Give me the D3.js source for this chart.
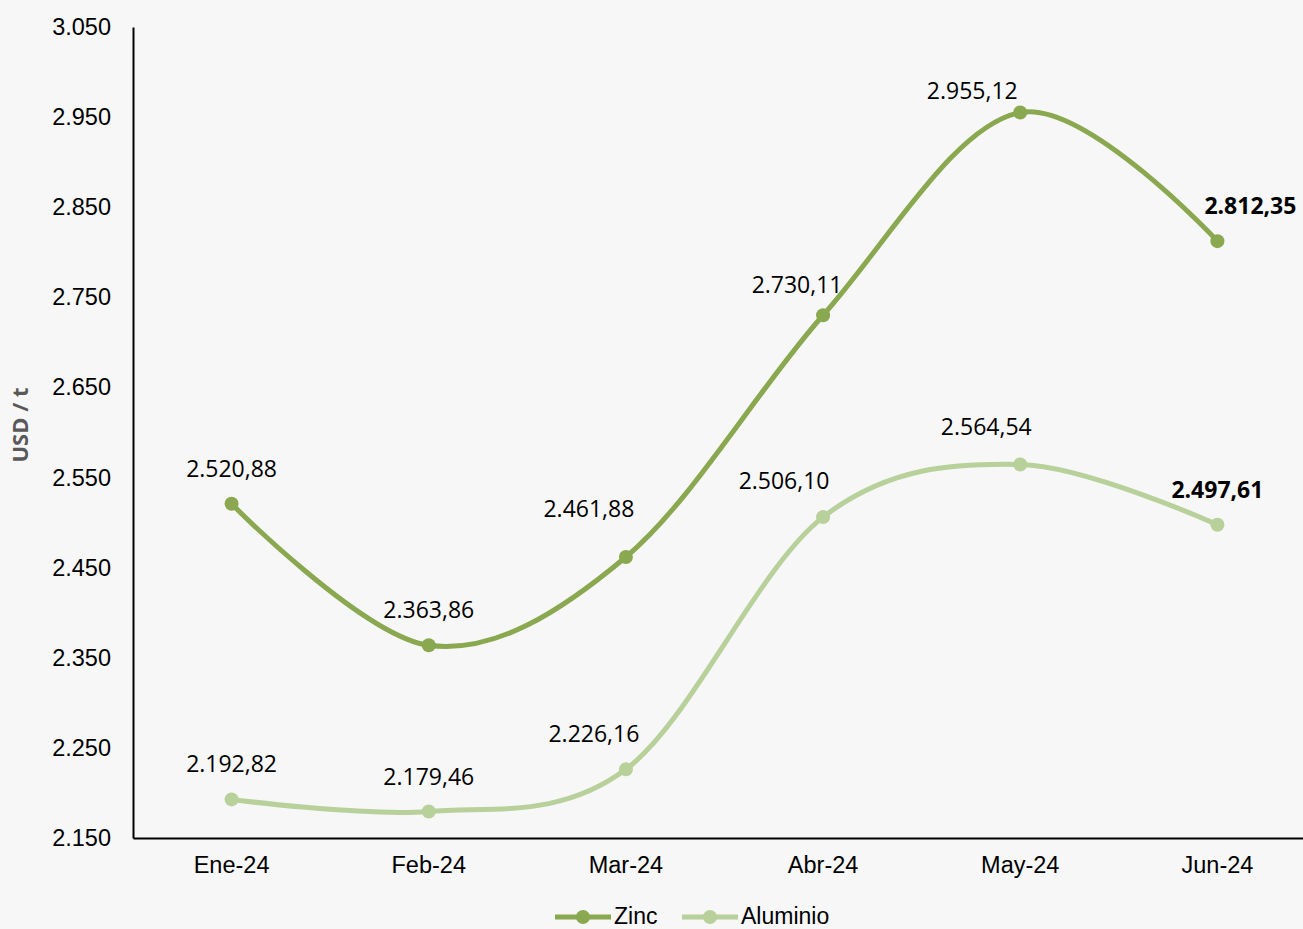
<!DOCTYPE html>
<html><head><meta charset="utf-8">
<script src="https://cdn.jsdelivr.net/npm/d3@7"></script>
<style>
html,body{margin:0;padding:0;background:#f7f7f7;overflow:hidden}
svg{display:block}
</style></head>
<body><svg id="chart" width="1303" height="929"></svg>
<script>
const categories = ["Ene-24","Feb-24","Mar-24","Abr-24","May-24","Jun-24"];
const zinc = [2520.88, 2363.86, 2461.88, 2730.11, 2955.12, 2812.35];
const aluminio = [2192.82, 2179.46, 2226.16, 2506.10, 2564.54, 2497.61];
const yTicks = [2150, 2250, 2350, 2450, 2550, 2650, 2750, 2850, 2950, 3050];
const seriesNames = ["Zinc", "Aluminio"];

// label layout (offsets from each point, in px)
const zincLabelOffsets = [[0,-35],[0,-35],[-37,-48],[-26,-30],[-48,-22],[33,-35]];
const aluLabelOffsets = [[0,-35],[0,-35],[-32,-35],[-39,-36],[-34,-38],[0,-35]];

(function(){
const svg = d3.select("#chart");
const mLeft = 133, mTop = 27, mBottom = 838, mRight = 1316;
const arial = "Liberation Sans, Arial, sans-serif";
const labelFont = "'Open Sans', sans-serif";

const x = d3.scaleBand().domain(categories).range([mLeft, mRight]);
const y = d3.scaleLinear().domain([2150, 3050]).range([mBottom, mTop]);
const cx = c => x(c) + x.bandwidth()/2;

const fmt = v => {
  const s = v.toFixed(2).split(".");
  return s[0].replace(/\B(?=(\d{3})+(?!\d))/g, ".") + "," + s[1];
};
const tickFmt = v => String(v).replace(/\B(?=(\d{3})+(?!\d))/g, ".");

// Y axis
const yAxis = d3.axisLeft(y).tickValues(yTicks).tickSize(0).tickPadding(22).tickFormat(tickFmt);
const gy = svg.append("g").attr("transform", `translate(${mLeft},0)`).call(yAxis);
gy.select(".domain").attr("stroke", "#000").attr("stroke-width", 2);
gy.selectAll("text").attr("font-family", arial).attr("font-size", 23.5).attr("fill", "#000");

// X axis
const xAxis = d3.axisBottom(x).tickSize(0).tickPadding(18);
const gx = svg.append("g").attr("transform", `translate(0,${mBottom})`).call(xAxis);
gx.select(".domain").attr("stroke", "#000").attr("stroke-width", 2);
gx.selectAll("text").attr("font-family", arial).attr("font-size", 23.5).attr("fill", "#000");

// Y title
svg.append("text")
  .attr("transform", `translate(28,425) rotate(-90)`)
  .attr("text-anchor", "middle")
  .attr("font-family", labelFont).attr("font-weight", "bold")
  .attr("font-size", 22).attr("fill", "#595959")
  .text("USD / t");

const line = d3.line().x((d,i) => cx(categories[i])).y(d => y(d)).curve(d3.curveCatmullRom.alpha(0));

const series = [
  {name: seriesNames[0], values: zinc, color: "#8aa84f", offs: zincLabelOffsets},
  {name: seriesNames[1], values: aluminio, color: "#b8d09a", offs: aluLabelOffsets}
];

series.slice().reverse().forEach(s => {
  svg.append("path").datum(s.values).attr("d", line)
    .attr("fill", "none").attr("stroke", s.color).attr("stroke-width", 5).attr("stroke-linecap", "round");
  svg.selectAll(null).data(s.values).enter().append("circle")
    .attr("cx", (d,i) => cx(categories[i])).attr("cy", d => y(d)).attr("r", 7).attr("fill", s.color);
});

series.forEach(s => {
  svg.selectAll(null).data(s.values).enter().append("text")
    .attr("x", (d,i) => cx(categories[i]) + s.offs[i][0])
    .attr("y", (d,i) => y(d) + s.offs[i][1])
    .attr("dy", "0.35em")
    .attr("text-anchor", "middle")
    .attr("font-family", labelFont)
    .attr("font-size", 23)
    .attr("font-weight", (d,i) => i === s.values.length - 1 ? "bold" : "normal")
    .attr("fill", "#000")
    .text(d => fmt(d));
});

// Legend
const legend = svg.append("g");
const legItems = [{x: 555, s: series[0]}, {x: 682, s: series[1]}];
legItems.forEach(it => {
  legend.append("line").attr("x1", it.x).attr("x2", it.x + 56).attr("y1", 917).attr("y2", 917)
    .attr("stroke", it.s.color).attr("stroke-width", 5);
  legend.append("circle").attr("cx", it.x + 28).attr("cy", 917).attr("r", 7).attr("fill", it.s.color);
  legend.append("text").attr("x", it.x + 59).attr("y", 924)
    .attr("font-family", arial).attr("font-size", 23).attr("fill", "#000")
    .text(it.s.name);
});
})();
</script></body></html>
